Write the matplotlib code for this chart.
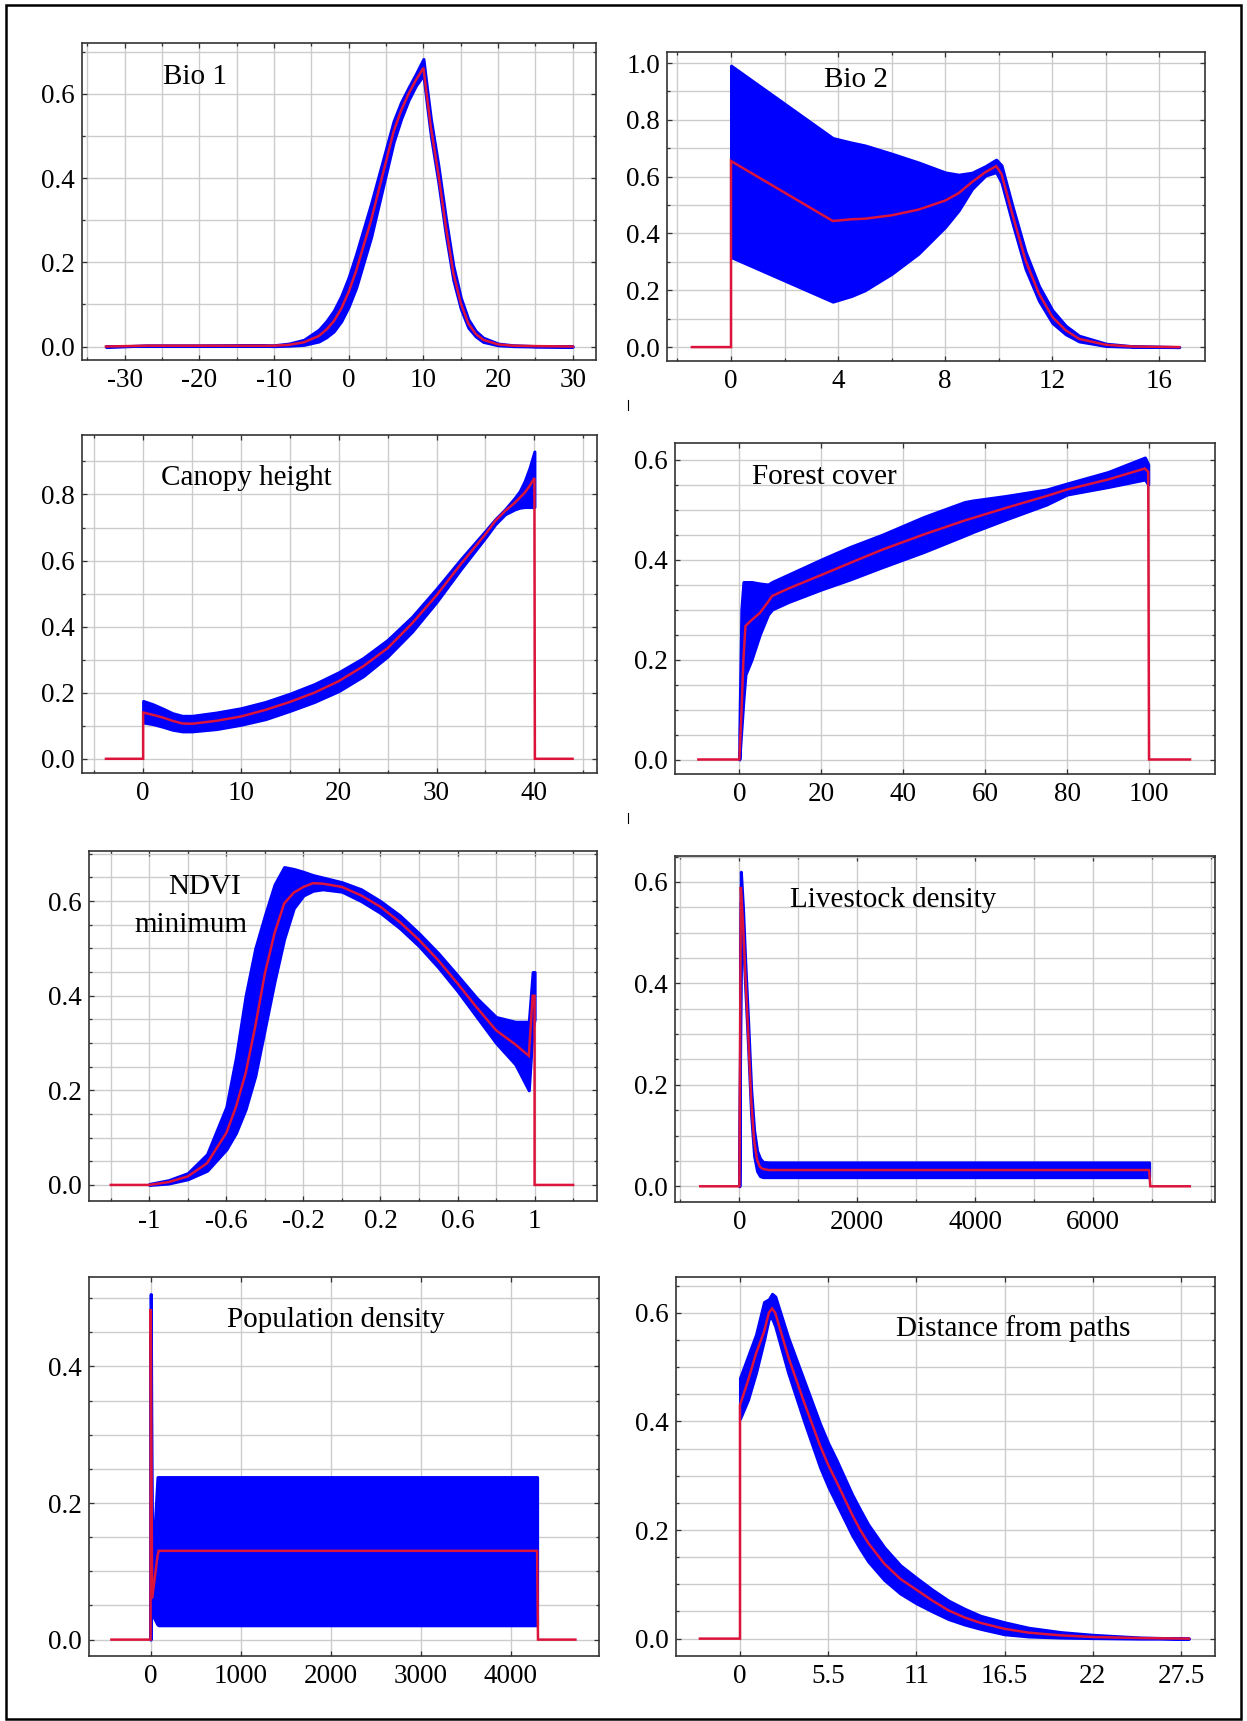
import numpy as np
import matplotlib
matplotlib.use("Agg")
import matplotlib.pyplot as plt
from matplotlib.ticker import FixedLocator, MultipleLocator, NullLocator
from matplotlib.patches import Rectangle
from matplotlib.lines import Line2D

plt.rcParams['font.family'] = ['Liberation Serif', 'DejaVu Serif']
plt.rcParams['axes.unicode_minus'] = False

# ---------------- datos ----------------
# Bio 1
bio1_x = [-32.5, -27, -20, -12, -10, -8, -6, -4, -3, -2, -1, 0, 1, 2, 3, 4, 5, 6, 7, 8, 9, 10,
          10.5, 11, 12, 13, 14, 15, 16, 17, 18, 20, 22, 25, 30]
bio1_mid = [0, 0.002, 0.002, 0.002, 0.002, 0.004, 0.01, 0.025, 0.04, 0.06, 0.09, 0.13, 0.18, 0.24,
            0.30, 0.37, 0.44, 0.51, 0.56, 0.60, 0.633, 0.662, 0.59, 0.52, 0.41, 0.285, 0.175, 0.103,
            0.055, 0.03, 0.016, 0.005, 0.002, 0.001, 0]
bio1_lo = [0, 0.002, 0.002, 0.002, 0.001, 0.002, 0.004, 0.012, 0.022, 0.036, 0.06, 0.095, 0.14, 0.2,
           0.26, 0.335, 0.41, 0.485, 0.54, 0.585, 0.62, 0.645, 0.57, 0.5, 0.39, 0.265, 0.158, 0.09,
           0.045, 0.024, 0.011, 0.003, 0.001, 0.0, 0]
bio1_hi = [0, 0.002, 0.002, 0.003, 0.003, 0.007, 0.016, 0.04, 0.06, 0.085, 0.12, 0.165, 0.22, 0.28,
           0.34, 0.405, 0.47, 0.535, 0.58, 0.615, 0.648, 0.683, 0.61, 0.54, 0.43, 0.305, 0.192, 0.116,
           0.065, 0.037, 0.021, 0.007, 0.003, 0.001, 0]

# Bio 2
bio2_x = [0, 3.8, 4.5, 5, 6, 7, 8, 8.5, 9, 9.5, 9.9, 10.1, 10.5, 11, 11.5, 12, 12.5, 13, 14, 15, 16.74]
bio2_mid = [0.655, 0.444, 0.45, 0.452, 0.464, 0.484, 0.516, 0.542, 0.581, 0.616, 0.637, 0.61, 0.47,
            0.305, 0.188, 0.106, 0.059, 0.029, 0.008, 0.002, 0]
bio2_lo = [0.317, 0.16, 0.18, 0.2, 0.258, 0.329, 0.423, 0.481, 0.557, 0.604, 0.616, 0.58, 0.44, 0.275,
           0.163, 0.085, 0.045, 0.02, 0.004, 0.001, 0]
bio2_hi = [0.991, 0.736, 0.72, 0.71, 0.681, 0.65, 0.615, 0.607, 0.614, 0.637, 0.66, 0.64, 0.5, 0.335,
           0.215, 0.13, 0.075, 0.04, 0.012, 0.003, 0]

# Canopy height
can_x = [0, 1, 2, 3, 4, 5, 7.5, 10, 12.5, 15, 17.5, 20, 22.5, 25, 27.5, 30, 32.5, 35, 36, 37, 38,
         38.5, 39, 39.5, 40]
can_mid = [0.14, 0.133, 0.125, 0.115, 0.107, 0.106, 0.115, 0.128, 0.148, 0.172, 0.2, 0.235, 0.28,
           0.335, 0.41, 0.495, 0.59, 0.68, 0.72, 0.75, 0.775, 0.79, 0.805, 0.825, 0.85]
can_lo = [0.11, 0.105, 0.097, 0.088, 0.083, 0.083, 0.09, 0.103, 0.12, 0.145, 0.172, 0.205, 0.25,
          0.31, 0.385, 0.475, 0.575, 0.67, 0.71, 0.74, 0.755, 0.76, 0.762, 0.762, 0.762]
can_hi = [0.175, 0.165, 0.152, 0.138, 0.13, 0.13, 0.14, 0.153, 0.172, 0.197, 0.226, 0.262, 0.305,
          0.36, 0.43, 0.515, 0.605, 0.69, 0.725, 0.755, 0.79, 0.81, 0.84, 0.88, 0.93]

# Forest cover
for_x = [0, 0.5, 1, 1.5, 3, 5, 7, 8, 12, 20, 27, 35, 45, 55, 57, 65, 75, 80, 90, 99, 99.8]
for_mid = [0.0, 0.09, 0.2, 0.267, 0.279, 0.293, 0.315, 0.327, 0.342, 0.369, 0.393, 0.42, 0.45,
           0.478, 0.483, 0.503, 0.527, 0.54, 0.56, 0.582, 0.575]
for_lo = [0.0, 0.06, 0.12, 0.17, 0.2, 0.25, 0.29, 0.3, 0.315, 0.34, 0.36, 0.385, 0.415, 0.448,
          0.455, 0.48, 0.51, 0.53, 0.545, 0.56, 0.55]
for_hi = [0.05, 0.3, 0.355, 0.355, 0.355, 0.352, 0.35, 0.355, 0.37, 0.4, 0.425, 0.45, 0.485, 0.515,
          0.518, 0.527, 0.54, 0.552, 0.575, 0.604, 0.59]

# NDVI minimum
ndvi_x = [-1, -0.9, -0.8, -0.7, -0.6, -0.55, -0.5, -0.45, -0.4, -0.35, -0.3, -0.25, -0.2, -0.15,
          -0.1, 0, 0.1, 0.2, 0.3, 0.4, 0.5, 0.6, 0.7, 0.8, 0.9, 0.97, 0.99, 1.0]
ndvi_mid = [0, 0.006, 0.018, 0.046, 0.11, 0.165, 0.236, 0.335, 0.447, 0.532, 0.595, 0.618, 0.63,
            0.638, 0.637, 0.63, 0.612, 0.588, 0.556, 0.518, 0.475, 0.426, 0.375, 0.327, 0.297,
            0.273, 0.40, 0.40]
ndvi_lo = [0, 0.003, 0.012, 0.03, 0.075, 0.11, 0.16, 0.23, 0.33, 0.43, 0.52, 0.585, 0.612, 0.622,
           0.625, 0.62, 0.6, 0.575, 0.543, 0.505, 0.46, 0.41, 0.355, 0.3, 0.255, 0.2, 0.33, 0.35]
ndvi_hi = [0.002, 0.01, 0.025, 0.065, 0.165, 0.27, 0.4, 0.5, 0.57, 0.635, 0.672, 0.668, 0.662,
           0.655, 0.65, 0.64, 0.625, 0.6, 0.57, 0.532, 0.49, 0.443, 0.395, 0.355, 0.345, 0.345,
           0.45, 0.45]

# Livestock density
liv_x = [0, 25, 60, 100, 150, 200, 250, 300, 350, 400, 500, 6950]
liv_mid = [0, 0.59, 0.52, 0.42, 0.30, 0.17, 0.09, 0.052, 0.038, 0.034, 0.032, 0.032]
liv_lo = [0, 0.56, 0.49, 0.39, 0.27, 0.14, 0.06, 0.03, 0.02, 0.018, 0.018, 0.018]
liv_hi = [0, 0.62, 0.55, 0.44, 0.32, 0.19, 0.11, 0.07, 0.055, 0.048, 0.047, 0.047]

# Population density
pop_x = [0, 2, 8, 18, 77, 90, 4290]
pop_mid = [0, 0.484, 0.32, 0.06, 0.122, 0.13, 0.13]
pop_lo = [0, 0.45, 0.04, 0.037, 0.022, 0.021, 0.021]
pop_hi = [0, 0.506, 0.33, 0.10, 0.238, 0.238, 0.238]

# Distance from paths
dis_x = [0, 0.5, 1, 1.5, 1.8, 2, 2.2, 3, 4, 5, 5.5, 6, 7, 7.5, 8, 9, 10, 11, 12, 13, 14, 15, 16.5,
         18, 20, 22, 25, 28]
dis_mid = [0.43, 0.475, 0.525, 0.565, 0.6, 0.608, 0.6, 0.52, 0.435, 0.355, 0.32, 0.29, 0.228, 0.2,
           0.176, 0.138, 0.11, 0.09, 0.07, 0.052, 0.039, 0.029, 0.018, 0.011, 0.006, 0.003, 0.001, 0]
dis_lo = [0.405, 0.44, 0.49, 0.55, 0.59, 0.59, 0.575, 0.49, 0.4, 0.315, 0.28, 0.25, 0.19, 0.165,
          0.142, 0.108, 0.083, 0.065, 0.05, 0.036, 0.026, 0.018, 0.008, 0.004, 0.002, 0.001, 0, 0]
dis_hi = [0.48, 0.52, 0.56, 0.62, 0.625, 0.635, 0.63, 0.555, 0.475, 0.395, 0.36, 0.33, 0.265, 0.237,
          0.21, 0.168, 0.135, 0.112, 0.09, 0.07, 0.055, 0.042, 0.03, 0.02, 0.012, 0.007, 0.002, 0]

titulos = ['Bio 1', 'Bio 2', 'Canopy height', 'Forest cover', 'NDVI\nminimum',
           'Livestock density', 'Population density', 'Distance from paths']

# colas a cero fuera del dominio (izquierda, derecha)
colas = [(None, None), (-1.46, None), (-3.8, 43.9), (-10, 110), (-1.2, 1.2),
         (-664, 7641), (-434, 4715), (-2.5, None)]
caidas = [None, None, 40.05, 100.0, 1.0, 6970, 4300, None]

# ---------------- ejes ----------------
W, H = 1247, 1721
fig = plt.figure(figsize=(W / 100, H / 100), dpi=100)

def rect(l, t, r, b):
    return [l / W, 1 - b / H, (r - l) / W, (b - t) / H]

cajas = [(82, 43, 596, 360), (667, 52, 1205, 361),
         (82, 435, 597, 773), (675, 443, 1215, 774),
         (89, 851, 597, 1201), (675, 856, 1215, 1202),
         (89, 1277, 599, 1656), (676, 1277, 1215, 1656)]

xlims = [(-35.7, 33.1), (-2.39, 17.7), (-6.25, 46.4), (-15.7, 116.1),
         (-1.313, 1.324), (-1092, 8068), (-683, 4977), (-3.99, 29.62)]
ylims = [(-0.032, 0.721), (-0.049, 1.039), (-0.043, 0.98), (-0.029, 0.633),
         (-0.034, 0.706), (-0.031, 0.651), (-0.024, 0.531), (-0.032, 0.666)]

xticks = [[-30, -20, -10, 0, 10, 20, 30], [0, 4, 8, 12, 16], [0, 10, 20, 30, 40],
          [0, 20, 40, 60, 80, 100], [-1, -0.6, -0.2, 0.2, 0.6, 1], [0, 2000, 4000, 6000],
          [0, 1000, 2000, 3000, 4000], [0, 5.5, 11, 16.5, 22, 27.5]]
xlabels = [['-30', '-20', '-10', '0', '10', '20', '30'], ['0', '4', '8', '12', '16'],
           ['0', '10', '20', '30', '40'], ['0', '20', '40', '60', '80', '100'],
           ['-1', '-0.6', '-0.2', '0.2', '0.6', '1'], ['0', '2000', '4000', '6000'],
           ['0', '1000', '2000', '3000', '4000'], ['0', '5.5', '11', '16.5', '22', '27.5']]
xminor = [5, 2, 5, None, 0.2, 1000, None, None]
yticks = [[0, 0.2, 0.4, 0.6], [0, 0.2, 0.4, 0.6, 0.8, 1.0], [0, 0.2, 0.4, 0.6, 0.8],
          [0, 0.2, 0.4, 0.6], [0, 0.2, 0.4, 0.6], [0, 0.2, 0.4, 0.6], [0, 0.2, 0.4],
          [0, 0.2, 0.4, 0.6]]
yminor = [0.1, 0.1, 0.1, 0.05, 0.05, 0.05, 0.05, 0.05]

pos_titulo = [(0.158, 0.894), (0.292, 0.908), (0.154, 0.872), (0.143, 0.897), None,
              (0.213, 0.872), (0.27, 0.887), (0.408, 0.864)]

datos = [(bio1_x, bio1_mid, bio1_lo, bio1_hi), (bio2_x, bio2_mid, bio2_lo, bio2_hi),
         (can_x, can_mid, can_lo, can_hi), (for_x, for_mid, for_lo, for_hi),
         (ndvi_x, ndvi_mid, ndvi_lo, ndvi_hi), (liv_x, liv_mid, liv_lo, liv_hi),
         (pop_x, pop_mid, pop_lo, pop_hi), (dis_x, dis_mid, dis_lo, dis_hi)]

azul = '#0000ff'
rojo = '#dc143c'

for i in range(8):
    ax = fig.add_axes(rect(*cajas[i]))
    x, mid, lo, hi = datos[i]

    ax.fill_between(x, lo, hi, color=azul, lw=2.2, edgecolor=azul, zorder=3)

    # linea roja con colas a cero
    xr, yr = list(x), list(mid)
    izq, der = colas[i]
    if izq is not None:
        xr = [izq, x[0]] + xr
        yr = [0, 0] + yr
    if caidas[i] is not None:
        xr = xr + [caidas[i]]
        yr = yr + [0]
    if der is not None:
        xr = xr + [der]
        yr = yr + [0]
    ax.plot(xr, yr, color=rojo, lw=1.8, zorder=4, solid_joinstyle='miter')

    ax.set_xlim(*xlims[i])
    ax.set_ylim(*ylims[i])
    ax.xaxis.set_major_locator(FixedLocator(xticks[i]))
    ax.set_xticklabels(xlabels[i])
    if xminor[i] is not None:
        ax.xaxis.set_minor_locator(MultipleLocator(xminor[i]))
    else:
        ax.xaxis.set_minor_locator(NullLocator())
    ax.yaxis.set_major_locator(FixedLocator(yticks[i]))
    ax.set_yticklabels(['%.1f' % v for v in yticks[i]])
    ax.yaxis.set_minor_locator(MultipleLocator(yminor[i]))

    ax.grid(True, which='both', color='#cccccc', lw=1.0, zorder=0)
    ax.set_axisbelow(True)
    ax.tick_params(which='both', direction='in', top=True, right=True, color='#333333',
                   width=0.9)
    ax.tick_params(which='major', length=3.5)
    ax.tick_params(which='minor', length=2.5)
    ax.tick_params(axis='x', labelsize=19.5, pad=6)
    ax.tick_params(axis='y', labelsize=19.5, pad=5)
    for s in ax.spines.values():
        s.set_color('#333333')
        s.set_linewidth(1.2)

    if pos_titulo[i] is not None:
        ax.text(pos_titulo[i][0], pos_titulo[i][1], titulos[i], transform=ax.transAxes,
                fontsize=21, ha='left', va='center', zorder=6)
    else:
        l1, l2 = titulos[i].split('\n')
        ax.text(0.227, 0.898, l1, transform=ax.transAxes, fontsize=21, ha='center',
                va='center', zorder=6)
        ax.text(0.20, 0.789, l2, transform=ax.transAxes, fontsize=21, ha='center',
                va='center', zorder=6)

# marco exterior
fig.patches.append(Rectangle((6 / W, 1 - 1719 / H), (1241 - 6) / W, (1719 - 5) / H,
                             transform=fig.transFigure, fill=False, lw=1.8, ec='black'))
# pequenas marcas entre paneles
for yy in (405, 818):
    fig.add_artist(Line2D([628 / W, 628 / W], [1 - (yy - 5) / H, 1 - (yy + 5) / H],
                          color='black', lw=0.8))

fig.savefig('out.png', dpi=100)
